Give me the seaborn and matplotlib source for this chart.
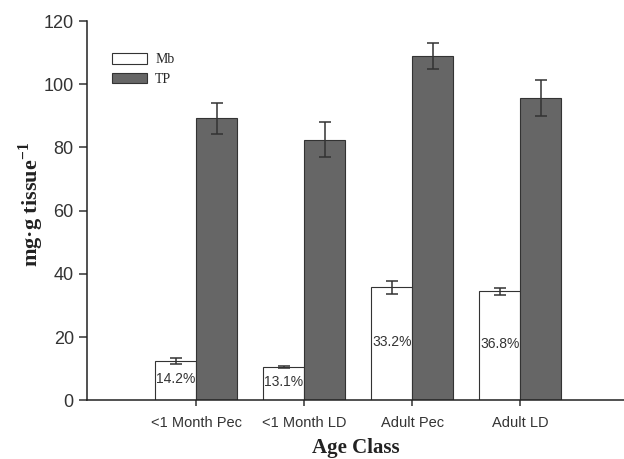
import numpy as np
import pandas as pd
import seaborn as sns
import matplotlib
matplotlib.use("Agg")
import matplotlib.pyplot as plt
from matplotlib.patches import Patch

# data
age_classes = ["<1 Month Pec", "<1 Month LD", "Adult Pec", "Adult LD"]
mb_mean = [12.4, 10.6, 35.8, 34.5]
mb_err = [0.9, 0.4, 2.1, 1.1]
tp_mean = [89.3, 82.5, 109.0, 95.7]
tp_err = [4.9, 5.6, 4.2, 5.6]
mb_pct = ["14.2%", "13.1%", "33.2%", "36.8%"]
series = ["Mb", "TP"]

df = pd.DataFrame({
    "age": age_classes * 2,
    "value": mb_mean + tp_mean,
    "series": ["Mb"] * 4 + ["TP"] * 4,
})
errs = {"Mb": mb_err, "TP": tp_err}

sns.set_style("ticks")
plt.rcParams["font.family"] = ["Liberation Sans", "DejaVu Sans"]
plt.rcParams["mathtext.fontset"] = "custom"
plt.rcParams["mathtext.rm"] = "Liberation Serif"
plt.rcParams["mathtext.bf"] = "Liberation Serif:bold"
plt.rcParams["savefig.bbox"] = "standard"

fill = {"Mb": "#ffffff", "TP": "#666666"}
ink = "#333333"

fig = plt.figure(figsize=(6.24, 4.59), dpi=100)
ax = fig.add_axes([0.1394, 0.1279, 0.8606, 0.8263])

sns.barplot(data=df, x="age", y="value", hue="series", order=age_classes,
            hue_order=series, palette=fill, width=0.76, errorbar=None,
            edgecolor=ink, linewidth=0.8, legend=False, ax=ax)

# error bars and percentage labels at the bar centres
for cont, name in zip(ax.containers, series):
    xs = [b.get_x() + b.get_width() / 2 for b in cont]
    hs = [b.get_height() for b in cont]
    ax.errorbar(xs, hs, yerr=errs[name], fmt="none", ecolor=ink,
                elinewidth=1.1, capsize=4.3, capthick=1.1, zorder=3)
    if name == "Mb":
        for x, h, lab in zip(xs, hs, mb_pct):
            ax.text(x, h / 2 + 0.6, lab, ha="center", va="center",
                    fontsize=10, color="#333333")

ax.set_ylim(0, 120)
ax.set_xlim(-1.01, 3.96)
ax.set_yticks([0, 20, 40, 60, 80, 100, 120])
ax.tick_params(axis="y", labelsize=13, colors=ink, length=6, width=1.1,
               labelcolor="#333333")
ax.tick_params(axis="x", labelsize=10.5, colors=ink, length=4, width=1.1,
               pad=7, labelcolor="#333333")
sns.despine(ax=ax)
for s in ["left", "bottom"]:
    ax.spines[s].set_linewidth(1.1)
    ax.spines[s].set_color("#222222")

ax.set_xlabel("Age Class", family="Liberation Serif", fontweight="bold",
              fontsize=15, color="#222222", labelpad=6)
ax.set_ylabel(r"mg·g tissue$^{\mathbf{-1}}$", family="Liberation Serif",
              fontweight="bold", fontsize=16, color="#222222")
ax.yaxis.set_label_coords(-0.076, 0.515)

handles = [Patch(facecolor=fill[s], edgecolor=ink, linewidth=0.8) for s in series]
ax.legend(handles, series, loc="upper left", bbox_to_anchor=(0.047, 0.915),
          frameon=False, borderpad=0, borderaxespad=0, handlelength=2.5,
          handleheight=0.75, labelspacing=0.45, handletextpad=0.6,
          prop={"family": "Liberation Serif", "size": 10})

fig.savefig("out.png", dpi=100)
